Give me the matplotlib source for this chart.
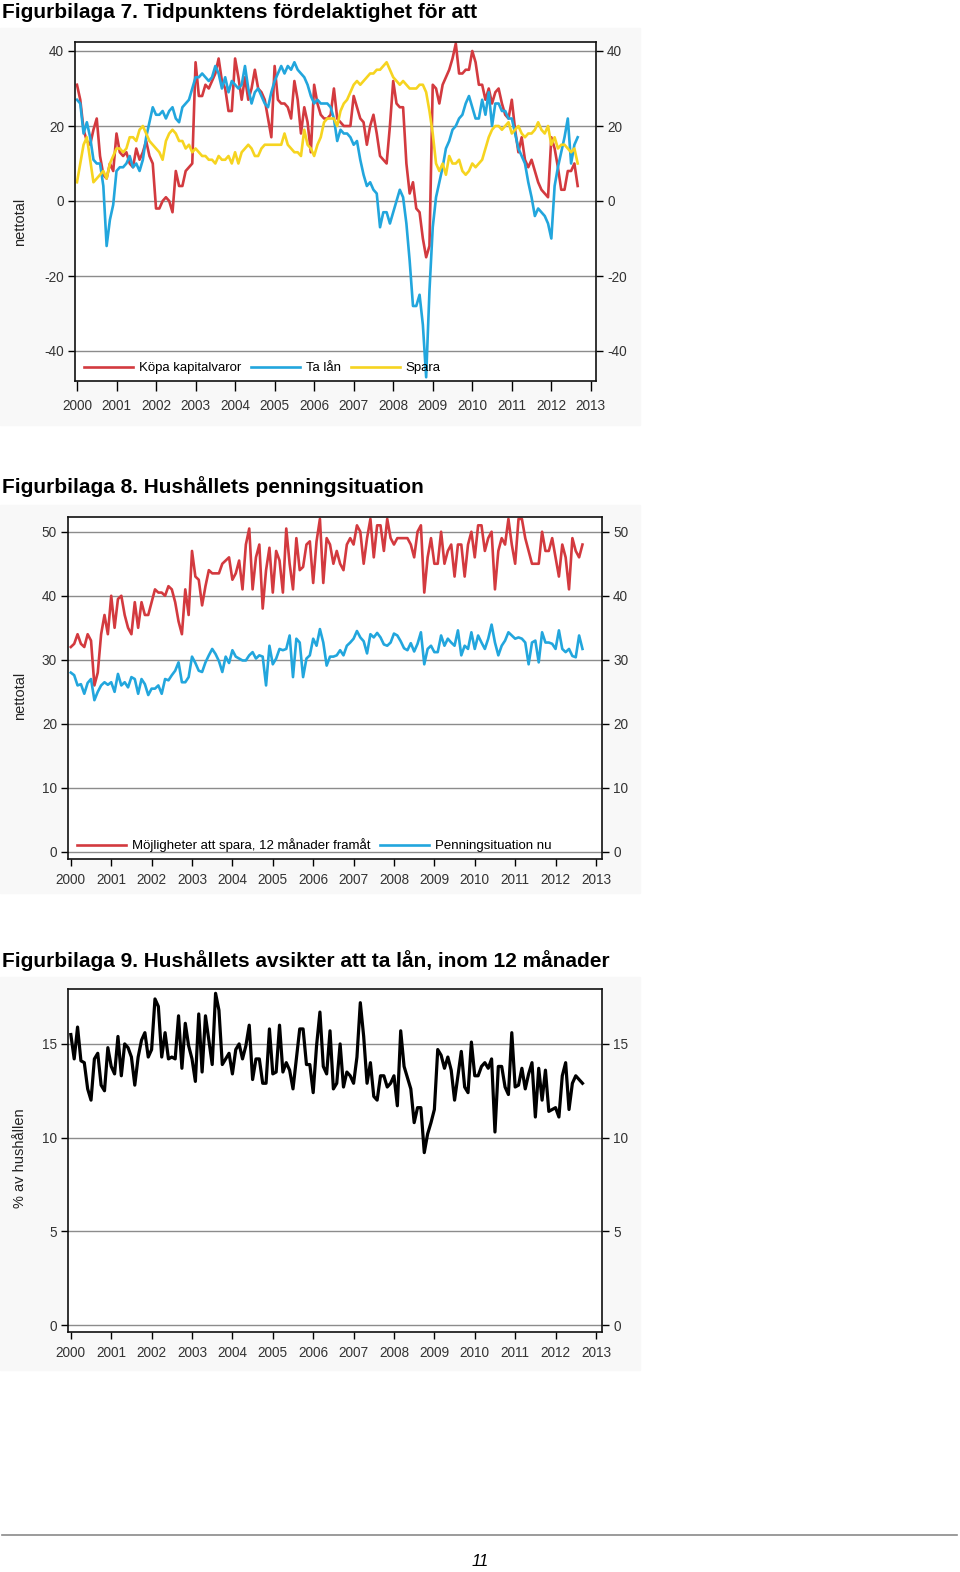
import numpy as np
import matplotlib
matplotlib.use("Agg")
import matplotlib.pyplot as plt
from matplotlib.patches import Rectangle
from matplotlib.lines import Line2D

plt.rcParams['font.family'] = ['Liberation Sans', 'DejaVu Sans']
plt.rcParams['axes.unicode_minus'] = False

# ---- Figurbilaga 7: monthly net figures, Jan 2000 - Sep 2012 ----
kopa_kapitalvaror = [
    31, 27, 19, 16, 15, 19, 22, 12, 7, 6, 10, 8,
    18, 13, 12, 13, 10, 9, 14, 11, 13, 16, 12, 10,
    -2, -2, 0, 1, 0, -3, 8, 4, 4, 8, 9, 10,
    37, 28, 28, 31, 30, 32, 34, 38, 32, 30, 24, 24,
    38, 33, 27, 33, 27, 30, 35, 30, 29, 27, 22, 17,
    36, 27, 26, 26, 25, 22, 32, 27, 18, 25, 21, 13,
    31, 26, 23, 22, 22, 23, 30, 22, 21, 20, 20, 20,
    28, 25, 22, 21, 15, 20, 23, 18, 12, 11, 10, 20,
    32, 26, 25, 25, 10, 2, 5, -2, -3, -10, -15, -12,
    31, 30, 26, 31, 33, 35, 38, 42, 34, 34, 35, 35,
    40, 37, 31, 31, 27, 30, 26, 29, 30, 26, 23, 22,
    27, 19, 13, 17, 11, 9, 11, 8, 5, 3, 2, 1,
    17, 14, 9, 3, 3, 8, 8, 10, 4,
]
ta_lan = [
    27, 26, 18, 21, 17, 11, 10, 10, 4, -12, -5, -1,
    8, 9, 9, 10, 12, 9, 10, 8, 11, 17, 21, 25,
    23, 23, 24, 22, 24, 25, 22, 21, 25, 26, 27, 30,
    33, 33, 34, 33, 32, 33, 36, 34, 30, 33, 29, 32,
    31, 30, 31, 36, 30, 26, 29, 30, 28, 26, 25, 29,
    32, 34, 36, 34, 36, 35, 37, 35, 34, 33, 31, 28,
    26, 27, 26, 26, 26, 25, 22, 16, 19, 18, 18, 17,
    15, 16, 11, 7, 4, 5, 3, 2, -7, -3, -3, -6,
    -3, 0, 3, 1, -6, -16, -28, -28, -25, -33, -47, -24,
    -7, 1, 5, 9, 14, 16, 19, 20, 22, 23, 26, 28,
    25, 22, 22, 27, 23, 29, 20, 26, 26, 24, 24, 22,
    22, 18, 14, 12, 10, 5, 1, -4, -2, -3, -4, -6,
    -10, 4, 9, 13, 17, 22, 10, 15, 17,
]
spara = [
    5, 10, 15, 17, 11, 5, 6, 7, 8, 6, 10, 12,
    14, 14, 13, 14, 17, 17, 16, 19, 20, 18, 16, 15,
    14, 13, 11, 16, 18, 19, 18, 16, 16, 14, 15, 13,
    14, 13, 12, 12, 11, 11, 10, 12, 11, 11, 12, 10,
    13, 10, 13, 14, 15, 14, 12, 12, 14, 15, 15, 15,
    15, 15, 15, 18, 15, 14, 13, 13, 12, 19, 15, 14,
    12, 15, 17, 21, 22, 22, 22, 20, 24, 26, 27, 29,
    31, 32, 31, 32, 33, 34, 34, 35, 35, 36, 37, 35,
    33, 32, 31, 32, 31, 30, 30, 30, 31, 31, 29, 24,
    18, 10, 8, 10, 7, 12, 10, 10, 11, 8, 7, 8,
    10, 9, 10, 11, 14, 17, 19, 20, 20, 19, 20, 21,
    18, 19, 20, 18, 17, 18, 18, 19, 21, 19, 18, 20,
    15, 17, 14, 15, 15, 14, 13, 14, 10,
]

# ---- Figurbilaga 8 ----
mojligheter_spara = [
    32, 32.5, 34, 32.5, 32, 34, 33, 26, 28, 34, 37, 34,
    40, 35, 39.5, 40, 37, 35, 34, 39, 35, 39, 37, 37,
    39, 41, 40.5, 40.5, 40, 41.5, 41, 39, 36, 34, 41, 37,
    47, 43, 42.5, 38.5, 41.5, 44, 43.5, 43.5, 43.5, 45, 45.5, 46,
    42.5, 43.5, 45.5, 41, 48, 50.5, 41, 46, 48, 38, 44, 47.5,
    40.5, 47, 45.5, 40.5, 50.5, 45, 41, 49, 44, 44.5, 48, 48.5,
    42, 48.5, 52, 42, 49, 48, 45, 47, 45, 44, 48, 49,
    48, 51, 50, 45, 49, 52, 46, 51, 51, 47, 52, 49,
    48, 49, 49, 49, 49, 48, 46, 50, 51, 40.5, 46, 49,
    45, 45, 50, 45, 47, 48, 43, 48, 48, 43, 48, 50,
    46, 51, 51, 47, 49, 50, 41, 47, 49, 48, 52, 48,
    45, 52, 52, 49, 47, 45, 45, 45, 50, 47, 47, 49,
    46, 43, 48, 46, 41, 49, 47, 46, 48,
]
penningsituation_nu = [
    28, 27.6, 26, 26.2, 24.7, 26.4, 27, 23.7, 25, 26, 26.5, 26.1,
    26.5, 25, 27.8, 26, 26.5, 25.7, 27.3, 27, 24.7, 27, 26.2, 24.5,
    25.5, 25.5, 26, 24.7, 27, 26.8, 27.6, 28.3, 29.6, 26.5, 26.5, 27.3,
    30.5, 29.5, 28.3, 28.1, 29.6, 30.7, 31.7, 30.9, 29.8, 28.1, 30.5, 29.5,
    31.5, 30.5, 30.2, 29.9, 29.9, 30.7, 31.2, 30.2, 30.7, 30.5, 26, 32.2,
    29.3, 30.2, 31.7, 31.5, 31.7, 33.8, 27.3, 33.3, 32.7, 27.3, 30.2, 30.7,
    33.3, 32.2, 34.8, 32.7, 29.1, 30.5, 30.5, 30.7, 31.5, 30.7, 32.2, 32.7,
    33.3, 34.5, 33.5, 32.9, 31, 34, 33.5, 34.2, 33.5, 32.4, 32.2, 32.7,
    34.1, 33.8, 32.9, 31.8, 31.5, 32.6, 31.3, 32.5, 34.3, 29.3, 31.7, 32.2,
    31.2, 31.2, 33.8, 32.2, 33.3, 32.7, 32.2, 34.6, 30.7, 32.2, 31.7, 34.3,
    31.7, 33.8, 32.7, 31.7, 33.3, 35.5, 32.7, 30.7, 32.2, 33, 34.3, 33.8,
    33.3, 33.5, 33.3, 32.7, 29.3, 32.7, 33, 29.6, 34.3, 32.7, 32.7, 32.5,
    31.7, 34.6, 31.7, 31.2, 31.7, 30.6, 30.4, 33.8, 31.7,
]

# ---- Figurbilaga 9 ----
avsikt_lan = [
    15.5, 14.2, 15.9, 14.1, 14.0, 12.6, 12.0, 14.2, 14.5, 12.8, 12.5, 14.8,
    13.8, 13.4, 15.4, 13.3, 15.0, 14.8, 14.3, 12.8, 14.3, 15.2, 15.6, 14.3,
    14.7, 17.4, 17.0, 14.3, 15.6, 14.2, 14.3, 14.2, 16.5, 13.7, 16.1, 14.9,
    14.2, 13.0, 16.6, 13.5, 16.5, 15.2, 13.9, 17.7, 16.8, 13.9, 14.2, 14.5,
    13.4, 14.7, 15.0, 14.2, 14.9, 16.0, 13.1, 14.2, 14.2, 12.9, 12.9, 15.8,
    13.4, 13.5, 16.0, 13.5, 14.0, 13.6, 12.6, 14.2, 15.8, 15.8, 13.9, 13.9,
    12.4, 14.9, 16.7, 13.8, 13.4, 15.7, 12.6, 12.9, 15.0, 12.7, 13.5, 13.3,
    12.9, 14.3, 17.2, 15.4, 12.9, 14.0, 12.2, 12.0, 13.3, 13.3, 12.7, 12.9,
    13.3, 11.7, 15.7, 13.8, 13.2, 12.6, 10.8, 11.6, 11.6, 9.2, 10.2, 10.8,
    11.5, 14.7, 14.4, 13.7, 14.3, 13.6, 12.0, 13.3, 14.6, 12.7, 12.4, 15.1,
    13.3, 13.3, 13.8, 14.0, 13.7, 14.2, 10.3, 13.8, 13.8, 12.7, 12.3, 15.6,
    12.7, 12.8, 13.7, 12.6, 13.4, 14.0, 11.1, 13.7, 12.0, 13.6, 11.4, 11.5,
    11.6, 11.1, 13.3, 14.0, 11.5, 12.9, 13.3, 13.1, 12.9,
]

years = list(range(2000, 2014))
RED = '#d33a3f'
BLUE = '#22a6dd'
YELLOW = '#f6d420'
W, H = 960, 1572


def months(series):
    return 2000 + np.arange(len(series)) / 12.0


def px_axes(fig, left, top, right, bottom):
    ax = fig.add_axes([left / W, 1 - bottom / H, (right - left) / W, (bottom - top) / H])
    ax.set_zorder(2)
    return ax


def style_axes(ax, yticks, ylim, xlim, xpad=4, xlen=5):
    ax.set_ylim(*ylim)
    ax.set_xlim(*xlim)
    ax.set_yticks(yticks)
    ax.set_xticks(years)
    ax.set_xticklabels([str(y) for y in years])
    ax.yaxis.grid(True, color='#8c8c8c', linewidth=1.0)
    ax.set_axisbelow(True)
    ax.tick_params(axis='y', right=True, labelright=True, direction='out',
                   length=5, width=1, labelsize=9.8, labelcolor='#333333', pad=3)
    ax.tick_params(axis='x', direction='out', length=xlen, width=1,
                   labelsize=9.8, labelcolor='#333333', pad=xpad)
    for s in ax.spines.values():
        s.set_linewidth(1.2)
        s.set_color('#111111')


def add_legend(ax, ncol):
    ax.legend(loc='lower left', bbox_to_anchor=(0.0, -0.008), ncol=ncol, frameon=False,
              fontsize=9.5, handlelength=3.7, handletextpad=0.45, columnspacing=0.75,
              borderaxespad=0.3)


fig = plt.figure(figsize=(W / 100, H / 100), dpi=100)

# faint panels behind each chart
for top, bottom in [(28, 425), (505, 893), (977, 1370)]:
    fig.patches.append(Rectangle((0, 1 - bottom / H), 640 / W, (bottom - top) / H,
                                 transform=fig.transFigure, color='#f8f8f8', zorder=-1))

# ---------- chart 7 ----------
fig.text(2 / W, 1 - 13 / H, 'Figurbilaga 7. Tidpunktens fördelaktighet för att',
         fontsize=15, fontweight='bold', va='center', ha='left')
ax1 = px_axes(fig, 75, 42, 596, 381)
ax1.plot(months(kopa_kapitalvaror), kopa_kapitalvaror, color=RED, lw=1.9, label='Köpa kapitalvaror')
ax1.plot(months(ta_lan), ta_lan, color=BLUE, lw=1.9, label='Ta lån')
ax1.plot(months(spara), spara, color=YELLOW, lw=1.9, label='Spara')
style_axes(ax1, [-40, -20, 0, 20, 40], (-48, 42.4), (1999.95, 2013.13), xpad=6, xlen=7)
add_legend(ax1, 3)
fig.text(20 / W, 1 - 222 / H, 'nettotal', rotation=90, fontsize=10.5,
         va='center', ha='center', color='#222222')

# ---------- chart 8 ----------
fig.text(2 / W, 1 - 487 / H, 'Figurbilaga 8. Hushållets penningsituation',
         fontsize=15, fontweight='bold', va='center', ha='left')
ax2 = px_axes(fig, 68, 517, 602, 859)
ax2.plot(months(mojligheter_spara), mojligheter_spara, color=RED, lw=1.9,
         label='Möjligheter att spara, 12 månader framåt')
ax2.plot(months(penningsituation_nu), penningsituation_nu, color=BLUE, lw=1.9,
         label='Penningsituation nu')
style_axes(ax2, [0, 10, 20, 30, 40, 50], (-1.1, 52.3), (1999.93, 2013.15), xpad=5)
add_legend(ax2, 2)
fig.text(20 / W, 1 - 696 / H, 'nettotal', rotation=90, fontsize=10.5,
         va='center', ha='center', color='#222222')

# ---------- chart 9 ----------
fig.text(2 / W, 1 - 961 / H, 'Figurbilaga 9. Hushållets avsikter att ta lån, inom 12 månader',
         fontsize=15, fontweight='bold', va='center', ha='left')
ax3 = px_axes(fig, 68, 989, 602, 1332)
ax3.plot(months(avsikt_lan), avsikt_lan, color='#000000', lw=2.3)
style_axes(ax3, [0, 5, 10, 15], (-0.37, 17.93), (1999.93, 2013.15), xpad=5)
fig.text(20 / W, 1 - 1158 / H, '% av hushållen', rotation=90, fontsize=10.5,
         va='center', ha='center', color='#222222')

# footer
fig.lines.append(Line2D([2 / W, 957 / W], [1 - 1535 / H, 1 - 1535 / H],
                        transform=fig.transFigure, color='#8a8a8a', lw=1.2))
fig.text(480 / W, 1 - 1561 / H, '11', fontsize=12, style='italic',
         va='center', ha='center')

fig.savefig('out.png', dpi=100)
